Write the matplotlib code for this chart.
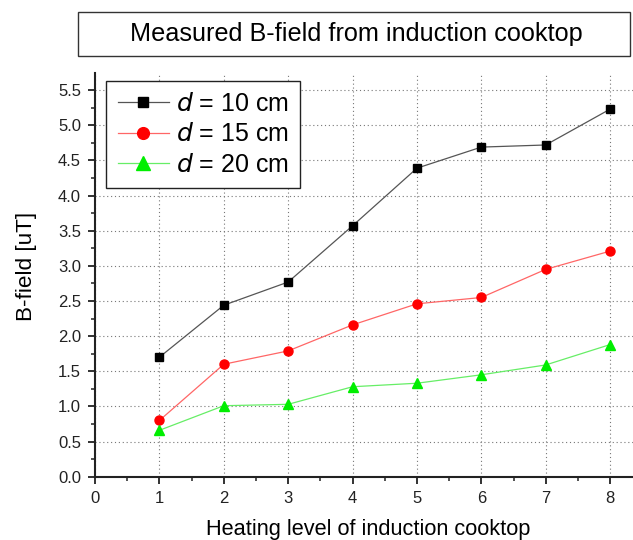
import matplotlib
matplotlib.use("Agg")
import matplotlib.pyplot as plt
from matplotlib.patches import Rectangle
from matplotlib.ticker import MultipleLocator

plt.rcParams['font.family'] = ['Liberation Sans', 'DejaVu Sans']

levels = [1, 2, 3, 4, 5, 6, 7, 8]
b_10cm = [1.70, 2.44, 2.77, 3.57, 4.39, 4.69, 4.72, 5.23]
b_15cm = [0.80, 1.60, 1.79, 2.16, 2.46, 2.55, 2.95, 3.21]
b_20cm = [0.66, 1.01, 1.03, 1.28, 1.33, 1.45, 1.59, 1.88]
labels = [r'$d$ = 10 cm', r'$d$ = 15 cm', r'$d$ = 20 cm']

fig = plt.figure(figsize=(6.33, 5.4), dpi=100)
ax = fig.add_axes([95/633, 63.3/540, 546/633, 403.4/540])

ax.plot(levels, b_10cm, color='#555555', lw=0.9, marker='s', ms=6,
        mfc='black', mec='black', label=labels[0])
ax.plot(levels, b_15cm, color='#ff6666', lw=0.9, marker='o', ms=6.5,
        mfc='red', mec='red', label=labels[1])
ax.plot(levels, b_20cm, color='#66ee66', lw=0.9, marker='^', ms=7.5,
        mfc='#00ee00', mec='#00ee00', label=labels[2])

ax.set_xlim(0, 8.48)
ax.set_ylim(0, 5.74)
ax.xaxis.set_major_locator(MultipleLocator(1))
ax.xaxis.set_minor_locator(MultipleLocator(0.5))
ax.yaxis.set_major_locator(MultipleLocator(0.5))
ax.yaxis.set_minor_locator(MultipleLocator(0.25))
ax.yaxis.set_major_formatter(matplotlib.ticker.FormatStrFormatter('%.1f'))

ax.grid(True, which='major', linestyle=(0, (1, 2.5)), color='#777777', lw=0.8)
ax.set_axisbelow(True)
for s in ['top', 'right']:
    ax.spines[s].set_visible(False)
for s in ['left', 'bottom']:
    ax.spines[s].set_linewidth(1.5)
    ax.spines[s].set_color('#222222')
ax.tick_params(which='major', direction='out', length=5, width=1.3,
               labelsize=12, colors='#222222')
ax.tick_params(which='minor', direction='out', length=3, width=1.1, colors='#222222')
ax.tick_params(axis='x', pad=5)
ax.tick_params(axis='y', pad=5)

ax.set_xlabel('Heating level of induction cooktop', fontsize=15.7, labelpad=10)
ax.set_ylabel('B-field [uT]', fontsize=16.2)
ax.yaxis.set_label_coords(-0.106, 0.52)

leg = ax.legend(loc='upper left', bbox_to_anchor=(0.021, 0.981), fontsize=18,
                frameon=True, fancybox=False, edgecolor='#222222',
                handlelength=2.05, handletextpad=0.3, borderpad=0.45,
                labelspacing=0.25, borderaxespad=0, markerscale=1.3)
leg.get_frame().set_linewidth(1.0)
leg.get_frame().set_alpha(1)

fig.patches.append(Rectangle((78/633, 1 - 55.7/540), 552/633, 44/540,
                             transform=fig.transFigure, fill=False,
                             edgecolor='#333333', lw=1.0))
fig.text(356/633, 1 - 34/540, 'Measured B-field from induction cooktop',
         ha='center', va='center', fontsize=18.2)

fig.savefig('out.png', dpi=100)
